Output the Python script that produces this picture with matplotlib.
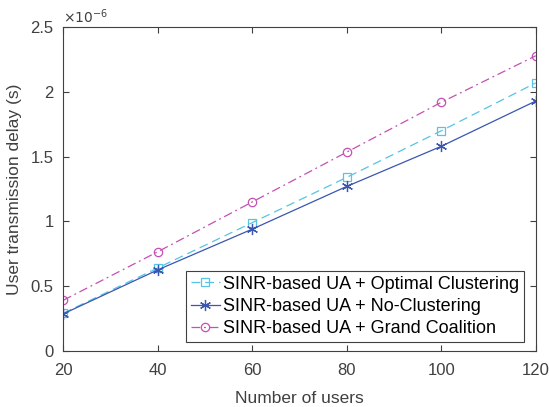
import numpy as np
import matplotlib
matplotlib.use('Agg')
import matplotlib.pyplot as plt

plt.rcParams['font.family'] = ['Liberation Sans', 'DejaVu Sans']

users = [20, 40, 60, 80, 100, 120]
optimal = [0.29, 0.64, 0.99, 1.34, 1.70, 2.07]
no_clust = [0.285, 0.625, 0.94, 1.27, 1.58, 1.93]
grand = [0.39, 0.765, 1.15, 1.535, 1.92, 2.28]
scale = 1e-6

c_opt = '#55c4e6'
c_no = '#3a56b0'
c_gc = '#c64fb4'

fig = plt.figure(figsize=(5.49, 4.07), dpi=100)
ax = fig.add_axes([0.1153, 0.1383, 0.8605, 0.7946])

ax.plot(users, np.array(optimal) * scale, color=c_opt, ls=(0, (7, 4)), lw=0.9,
        marker='s', ms=6, mfc='none', mew=0.9, label='SINR-based UA + Optimal Clustering')
ax.plot(users, np.array(no_clust) * scale, color=c_no, ls='-', lw=0.9,
        marker=(6, 2, 0), ms=8, mfc='none', mew=0.9, label='SINR-based UA + No-Clustering')
ax.plot(users, np.array(grand) * scale, color=c_gc, ls=(0, (7, 3, 1.5, 3)), lw=0.9,
        marker='o', ms=6, mfc='none', mew=0.9, label='SINR-based UA + Grand Coalition')

ax.set_xlim(20, 120)
ax.set_ylim(0, 2.5e-6)
ax.set_xticks(users)
ax.set_yticks(np.arange(0, 2.6, 0.5) * scale)
ax.set_yticklabels(['0', '0.5', '1', '1.5', '2', '2.5'])
ax.text(0.0, 1.003, r'$\times10^{-6}$', transform=ax.transAxes, fontsize=10,
        color='#404040', va='bottom', ha='left')

ax.set_xlabel('Number of users', fontsize=12.5, color='#404040', labelpad=9)
ax.set_ylabel('User transmission delay (s)', fontsize=12.5, color='#404040', labelpad=6)
ax.tick_params(direction='in', labelsize=12, colors='#404040', length=4,
               top=True, right=True)
ax.tick_params(axis='x', pad=9)
ax.tick_params(axis='y', pad=7)
for s in ax.spines.values():
    s.set_color('#404040')
    s.set_linewidth(0.8)

leg = ax.legend(loc='lower right', fontsize=13, frameon=True, fancybox=False,
                edgecolor='#404040', framealpha=1, handlelength=1.6,
                borderpad=0.25, labelspacing=0.3, handletextpad=0.2,
                borderaxespad=0.0, bbox_to_anchor=(0.975, 0.027))
leg.get_frame().set_linewidth(0.8)

fig.savefig('out.png', dpi=100)
